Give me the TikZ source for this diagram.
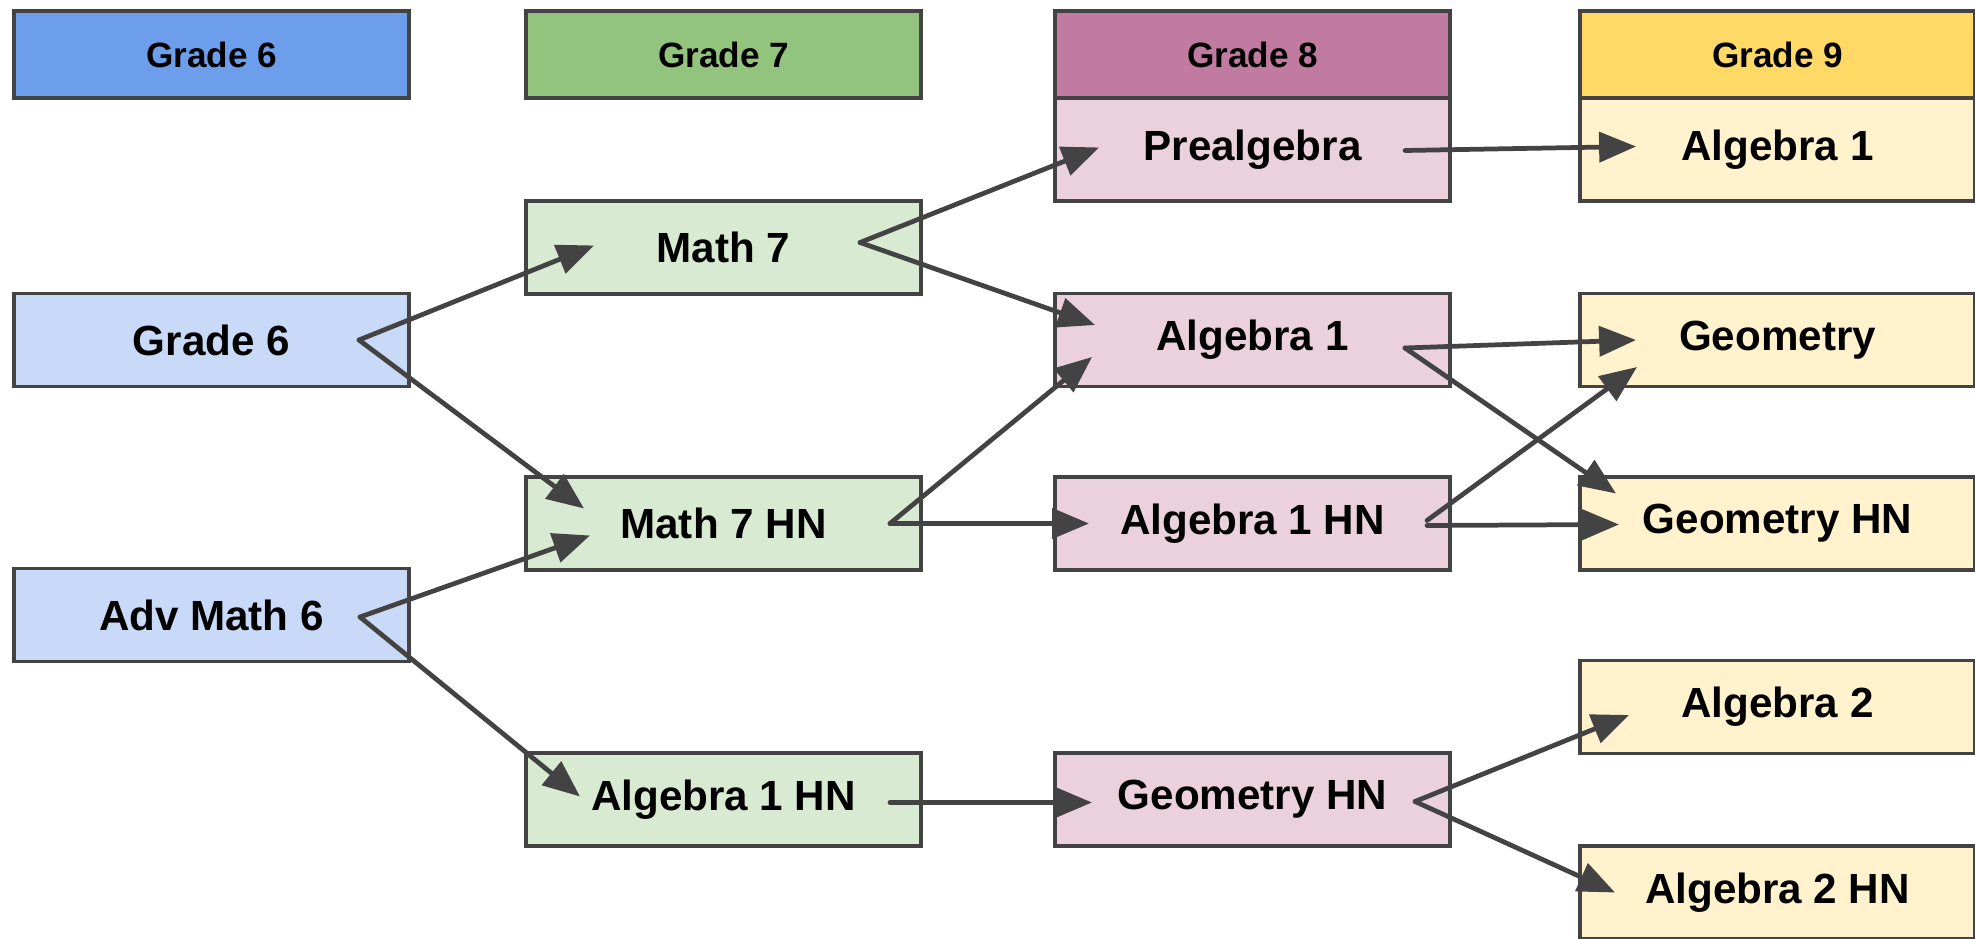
\documentclass[tikz,border=0pt]{standalone}
\usepackage{fontspec}
\setmainfont{Liberation Sans}
\usetikzlibrary{arrows.meta}
\definecolor{HeadBlue}{HTML}{6D9EEB}\definecolor{HeadGreen}{HTML}{93C47D}
\definecolor{HeadPink}{HTML}{C27BA0}\definecolor{HeadGold}{HTML}{FFD966}
\definecolor{CellBlue}{HTML}{C9DAF8}\definecolor{CellGreen}{HTML}{D9EAD3}
\definecolor{CellPink}{HTML}{EAD1DC}\definecolor{CellGold}{HTML}{FFF2CC}
\definecolor{EdgeGray}{HTML}{434343}

\begin{document}
\begin{tikzpicture}[line cap=round,
  box/.style={draw=EdgeGray,line width=0.95pt,minimum width=3.95cm,minimum height=0.93cm,inner sep=0pt,outer sep=0pt,font=\bfseries\fontsize{12}{14}\selectfont},
  head/.style={box,minimum height=0.87cm,font=\bfseries\fontsize{10}{12}\selectfont},
  link/.style={draw=EdgeGray,line width=1.35pt,-{Triangle[length=10.5pt,width=8.5pt]}}]
  \useasboundingbox (0,0) rectangle (19.75,-9.39);
  % grade headers
  \node[head,fill=HeadBlue] (h6) at (2.115,-0.545) {Grade 6};
  \node[head,fill=HeadGreen] (h7) at (7.235,-0.545) {Grade 7};
  \node[head,fill=HeadPink] (h8) at (12.525,-0.545) {Grade 8};
  \node[head,fill=HeadGold] (h9) at (17.775,-0.545) {Grade 9};
  % grade 6
  \node[box,fill=CellBlue] (g6) at (2.115,-3.40) {Grade 6};
  \node[box,fill=CellBlue] (adv) at (2.115,-6.15) {Adv Math 6};
  % grade 7
  \node[box,fill=CellGreen] (m7) at (7.235,-2.475) {Math 7};
  \node[box,fill=CellGreen] (m7hn) at (7.235,-5.235) {Math 7 HN};
  \node[box,fill=CellGreen] (alhn7) at (7.235,-7.995) {Algebra 1 HN};
  % grade 8
  \node[box,fill=CellPink,minimum height=1.03cm] (pre) at (12.525,-1.495) {Prealgebra};
  \node[box,fill=CellPink] (al8) at (12.525,-3.40) {Algebra 1};
  \node[box,fill=CellPink] (alhn8) at (12.525,-5.235) {Algebra 1 HN};
  \node[box,fill=CellPink] (gehn8) at (12.525,-7.995) {Geometry HN};
  % grade 9
  \node[box,fill=CellGold,minimum height=1.03cm] (al9) at (17.775,-1.495) {Algebra 1};
  \node[box,fill=CellGold] (geo) at (17.775,-3.40) {Geometry};
  \node[box,fill=CellGold] (gehn9) at (17.775,-5.235) {Geometry HN};
  \node[box,fill=CellGold] (alt) at (17.775,-7.07) {Algebra 2};
  \node[box,fill=CellGold] (althn) at (17.775,-8.925) {Algebra 2 HN};
  % paths
  \draw[link] ([xshift=-5mm]g6.east) -- ([xshift=6.8mm,yshift=.2mm]m7.west);
  \draw[link] ([xshift=-5mm]g6.east) -- ([xshift=5.8mm,yshift=1.5mm]m7hn.west);
  \draw[link] ([xshift=-4.9mm,yshift=-.2mm]adv.east) -- ([xshift=6.4mm,yshift=-1.2mm]m7hn.west);
  \draw[link] ([xshift=-4.9mm,yshift=-.2mm]adv.east) -- ([xshift=5.4mm,yshift=.3mm]alhn7.west);
  \draw[link] ([xshift=-6.1mm,yshift=.5mm]m7.east) -- ([xshift=4.4mm,yshift=.2mm]pre.west);
  \draw[link] ([xshift=-6.1mm,yshift=.5mm]m7.east) -- ([xshift=4mm,yshift=1.5mm]al8.west);
  \draw[link] ([xshift=-3.1mm]m7hn.east) -- ([xshift=3.7mm,yshift=-1.7mm]al8.west);
  \draw[link] ([xshift=-3.1mm]m7hn.east) -- ([xshift=3.4mm]alhn8.west);
  \draw[link] ([xshift=-3.1mm,yshift=-.3mm]alhn7.east) -- ([xshift=3.7mm,yshift=-.3mm]gehn8.west);
  \draw[link] ([xshift=-4.5mm,yshift=-.1mm]pre.east) -- ([xshift=5.6mm,yshift=.3mm]al9.west);
  \draw[link] ([xshift=-4.5mm,yshift=-.8mm]al8.east) -- ([xshift=5.6mm]geo.west);
  \draw[link] ([xshift=-4.5mm,yshift=-.8mm]al8.east) -- ([xshift=3.6mm,yshift=3mm]gehn9.west);
  \draw[link] ([xshift=-2.3mm,yshift=.3mm]alhn8.east) -- ([xshift=5.7mm,yshift=-2.7mm]geo.west);
  \draw[link] ([xshift=-2.3mm,yshift=-.2mm]alhn8.east) -- ([xshift=3.9mm,yshift=-.1mm]gehn9.west);
  \draw[link] ([xshift=-3.5mm,yshift=-.2mm]gehn8.east) -- ([xshift=4.9mm,yshift=-.8mm]alt.west);
  \draw[link] ([xshift=-3.5mm,yshift=-.2mm]gehn8.east) -- ([xshift=3.5mm]althn.west);
\end{tikzpicture}
\end{document}
